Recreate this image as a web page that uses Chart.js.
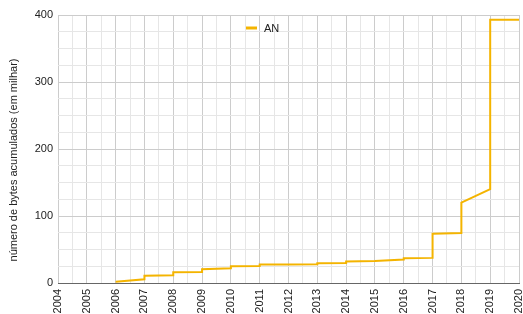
<!DOCTYPE html>
<html>
<head>
<meta charset="utf-8">
<script src="https://cdn.jsdelivr.net/npm/chart.js@4/dist/chart.umd.min.js"></script>
<style>
  html, body { margin: 0; padding: 0; background: #fff; }
  #wrap { width: 523px; height: 314px; }
</style>
</head>
<body>
<div id="wrap"><canvas id="grafico" width="523" height="314"></canvas></div>
<script>
// dados (anos e bytes acumulados em milhar)
const anos = [2006, 2007, 2007, 2008, 2008, 2009, 2009, 2010, 2010, 2011, 2011, 2012, 2013, 2013,
  2014, 2014, 2015, 2016, 2016, 2017, 2017, 2018, 2018, 2019, 2019, 2020];
const bytesAN = [2, 5.5, 11, 11.5, 16, 16.5, 20.5, 22, 25, 25.5, 27.5, 27.5, 28, 29.5,
  30, 32, 33, 35, 37, 37.5, 73.5, 74.5, 120, 140, 393, 393];
const rotuloSerie = 'AN';
const tituloY = 'número de bytes acumulados (em milhar)';
const ticksY = [0, 100, 200, 300, 400];

const cor = '#f4b400';
const fonte = { family: '"Liberation Sans", Arial, sans-serif', size: 11 };

// legenda e título do eixo y desenhados à mão
const extrasPlugin = {
  id: 'extras',
  afterDraw(chart) {
    const ctx = chart.ctx;
    ctx.save();
    ctx.strokeStyle = cor;
    ctx.lineWidth = 3;
    ctx.beginPath();
    ctx.moveTo(246, 28);
    ctx.lineTo(257, 28);
    ctx.stroke();
    ctx.fillStyle = '#222';
    ctx.font = '11px ' + fonte.family;
    ctx.textBaseline = 'middle';
    ctx.fillText(rotuloSerie, 264, 28.5);

    ctx.translate(14, 160);
    ctx.rotate(-Math.PI / 2);
    ctx.textAlign = 'center';
    ctx.fillText(tituloY, 0, 0);
    ctx.restore();
  }
};

const ctx = document.getElementById('grafico').getContext('2d');
new Chart(ctx, {
  type: 'line',
  data: {
    datasets: [{
      label: rotuloSerie,
      data: anos.map((a, i) => ({ x: a, y: bytesAN[i] })),
      borderColor: cor,
      backgroundColor: cor,
      borderWidth: 2,
      pointRadius: 0,
      tension: 0
    }]
  },
  options: {
    responsive: false,
    animation: false,
    layout: { padding: { top: 15, right: 4, left: 0, bottom: 0 } },
    plugins: {
      legend: { display: false },
      tooltip: { enabled: false }
    },
    scales: {
      x: {
        type: 'linear',
        min: 2004,
        max: 2020,
        afterFit: s => { s.height = 31; s.paddingLeft = 0; s.paddingRight = 0; },
        ticks: {
          stepSize: 0.5,
          autoSkip: false,
          maxRotation: 90,
          minRotation: 90,
          padding: 6,
          color: '#222',
          font: fonte,
          callback: v => Number.isInteger(v) ? String(v) : ''
        },
        grid: {
          drawTicks: false,
          color: c => Number.isInteger(c.tick.value) ? '#cccccc' : '#e6e6e6'
        },
        border: { color: '#666', width: 1 }
      },
      y: {
        min: 0,
        max: 400,
        afterFit: s => { s.width = 58; s.paddingTop = 0; s.paddingBottom = 0; },
        ticks: {
          stepSize: 25,
          autoSkip: false,
          padding: 5,
          color: '#222',
          font: fonte,
          callback: v => ticksY.includes(v) ? String(v) : ''
        },
        grid: {
          drawTicks: false,
          color: c => c.tick.value % 100 === 0 ? '#cccccc' : '#e6e6e6'
        },
        border: { display: false }
      }
    }
  },
  plugins: [extrasPlugin]
});
</script>
</body>
</html>
